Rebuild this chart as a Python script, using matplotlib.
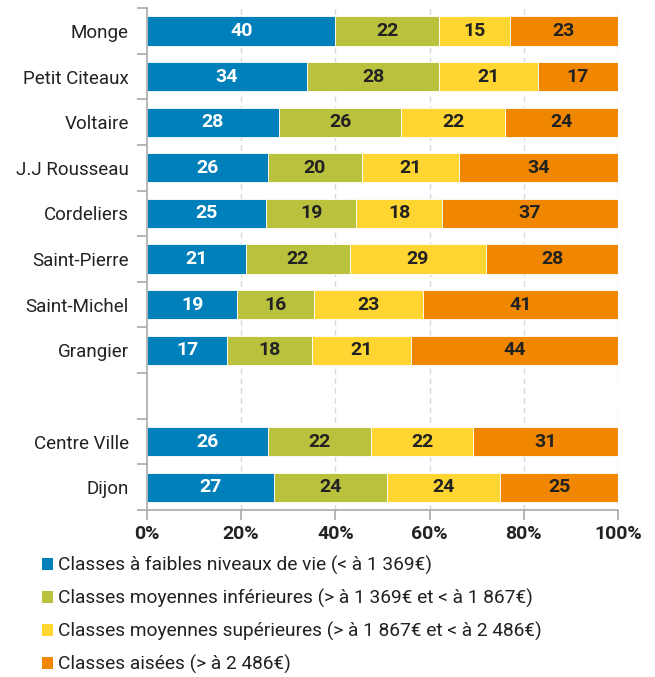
import numpy as np
import matplotlib.pyplot as plt
from matplotlib.patches import Patch

plt.rcParams['font.family'] = ['Roboto', 'DejaVu Sans']

# quartiers (top to bottom), with an empty slot between Grangier and Centre Ville
quartiers = ["Monge", "Petit Citeaux", "Voltaire", "J.J Rousseau", "Cordeliers",
             "Saint-Pierre", "Saint-Michel", "Grangier", "", "Centre Ville", "Dijon"]

faibles = [40, 34, 28, 26, 25, 21, 19, 17, None, 26, 27]
moy_inf = [22, 28, 26, 20, 19, 22, 16, 18, None, 22, 24]
moy_sup = [15, 21, 22, 21, 18, 29, 23, 21, None, 22, 24]
aisees = [23, 17, 24, 34, 37, 28, 41, 44, None, 31, 25]

series_names = ["Classes à faibles niveaux de vie (< à 1 369€)",
                "Classes moyennes inférieures (> à 1 369€ et < à 1 867€)",
                "Classes moyennes supérieures (> à 1 867€ et < à 2 486€)",
                "Classes aisées (> à 2 486€)"]
colors = ["#0080bb", "#bac13d", "#fed531", "#f18700"]
text_colors = ["white", "#222222", "#222222", "#222222"]

fig = plt.figure(figsize=(6.55, 6.77), dpi=100)
ax = fig.add_axes([0.2244, 0.2467, 0.7191, 0.7413])

series = [faibles, moy_inf, moy_sup, aisees]
for i, name in enumerate(quartiers):
    if faibles[i] is None:
        continue
    vals = [s[i] for s in series]
    total = sum(vals)
    left = 0.0
    for k, v in enumerate(vals):
        w = v / total * 100
        ax.barh(i, w, left=left, height=0.64, color=colors[k],
                edgecolor='white', linewidth=0.6, zorder=2)
        ax.text(left + w / 2, i, str(v), ha='center', va='center',
                color=text_colors[k], fontsize=14, fontweight='bold', zorder=3)
        left += w

ax.set_ylim(len(quartiers) - 0.5, -0.5)
ax.set_xlim(0, 100)

ax.set_yticks(range(len(quartiers)))
ax.set_yticklabels(quartiers, fontsize=13.5, color='#222222')
ax.set_yticks(np.arange(-0.5, len(quartiers), 1), minor=True)
ax.tick_params(axis='y', which='major', length=0, pad=13)
ax.tick_params(axis='y', which='minor', length=7, color='#aaaaaa', width=1.2)

ax.set_xticks(range(0, 101, 20))
ax.set_xticklabels([f"{t}%" for t in range(0, 101, 20)], fontsize=14,
                   fontweight='bold', color='#222222')
ax.tick_params(axis='x', length=7, color='#aaaaaa', width=1.2, pad=4)

for x in range(20, 101, 20):
    ax.axvline(x, color='#d9d9d9', linestyle=(0, (4, 3)), linewidth=1, zorder=1)

for side in ['top', 'right']:
    ax.spines[side].set_visible(False)
for side in ['left', 'bottom']:
    ax.spines[side].set_color('#aaaaaa')
    ax.spines[side].set_linewidth(1.2)

handles = [Patch(facecolor=c, edgecolor='none') for c in colors]
fig.legend(handles, series_names, loc='upper left', bbox_to_anchor=(0.064, 0.179),
           frameon=False, fontsize=13.8, handlelength=0.58, handleheight=0.58,
           handletextpad=0.25, labelspacing=0.72, labelcolor='#222222',
           borderaxespad=0, borderpad=0)

fig.savefig("out.png", dpi=100)
